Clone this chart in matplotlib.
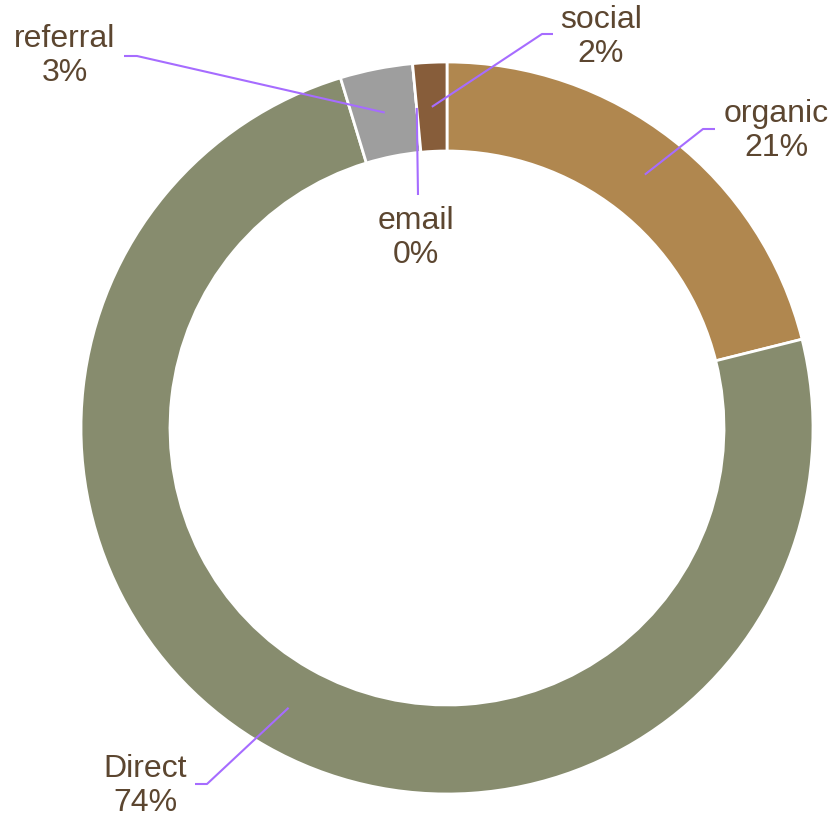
import numpy as np
import matplotlib
matplotlib.use("Agg")
import matplotlib.pyplot as plt

# traffic sources (share of sessions, %)
sources = ["organic", "Direct", "referral", "email", "social"]
shares = [21.1, 74.2, 3.2, 0.0, 1.5]
slice_colors = ["#b0874f", "#878c6e", "#9e9e9e", "#c8a070", "#875d3a"]

# label layout in pixel coords (x, y from top): text centre, elbow, line end
label_text = [(776, 131), (145, 786), (65, 56), (416, 238), (601, 37)]
label_elbow = [(703, 129), (207, 784), (137, 56), (418, 195), (542, 34)]
label_end = [(715, 129), (195, 784), (124, 56), (418, 195), (553, 34)]

W, H = 836, 825
plt.rcParams['font.family'] = ['Liberation Sans', 'DejaVu Sans']

fig = plt.figure(figsize=(W / 100, H / 100), dpi=100)
ax = fig.add_axes([0, 0, 1, 1])

cx, cy = 447, H - 428
r_out = 366
ring = 89

wedges, _ = ax.pie(shares, colors=slice_colors, startangle=90, counterclock=False,
                   radius=r_out, center=(cx, cy), frame=True,
                   wedgeprops=dict(width=ring, edgecolor='white', linewidth=2))
ax.set_xlim(0, W)
ax.set_ylim(0, H)
ax.set_aspect('equal')
ax.axis('off')

text_col = "#5c4630"
line_col = "#a66cff"
r_mid = r_out - ring / 2
for i, w in enumerate(wedges):
    ang = np.deg2rad((w.theta1 + w.theta2) / 2)
    sx, sy = cx + r_mid * np.cos(ang), cy + r_mid * np.sin(ang)
    ex, ey = label_elbow[i]
    tx, ty = label_end[i]
    ax.plot([sx, ex, tx], [sy, H - ey, H - ty], color=line_col, lw=1.5,
            solid_capstyle='butt', zorder=5)
    lx, ly = label_text[i]
    pct = int(round(shares[i] / sum(shares) * 100))
    ax.text(lx, H - ly, f"{sources[i]}\n{pct}%", ha='center', va='center',
            fontsize=23, color=text_col, linespacing=1.15)

fig.savefig("out.png", dpi=100)
